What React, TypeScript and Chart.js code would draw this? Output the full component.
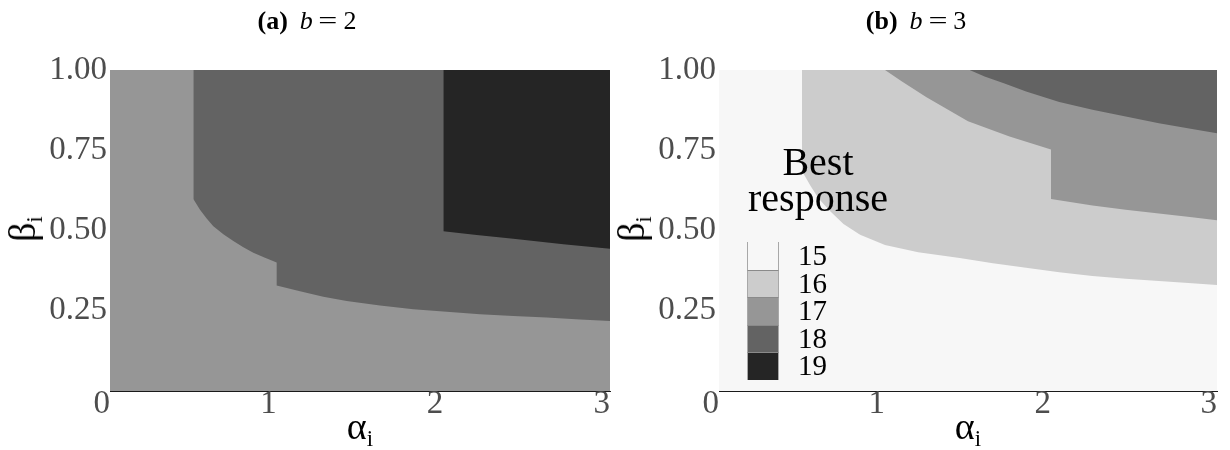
import React, { useEffect, useRef } from "react";
import { Chart, registerables } from "chart.js";

Chart.register(...registerables);

const FONT = "'Liberation Serif', 'DejaVu Serif', serif";

// axes
const X_TICKS = [0, 1, 2, 3];
const Y_TICKS = [0.25, 0.5, 0.75, 1.0];
const X_RANGE = [0, 3];
const Y_RANGE = [0, 1];

// legend levels ("Best response")
const LEVELS = [15, 16, 17, 18, 19];
const LEVEL_COLORS = ["#f7f7f7", "#cccccc", "#969696", "#636363", "#252525"];

// panel titles
const PANEL_TAGS = ["(a)", "(b)"];
const PANEL_B = [2, 3];

// Panel (a): b = 2  — base level 17, regions 18 and 19 above the boundaries
const A_BASE = 17;
const A_18_ALPHA = [0.5, 0.5, 0.54, 0.58, 0.62, 0.68, 0.74, 0.8, 0.86, 0.93, 1.0, 1.0, 1.14, 1.28, 1.42, 1.62, 1.82, 2.02, 2.22, 2.42, 2.62, 2.82, 3.0];
const A_18_BETA = [1.0, 0.598, 0.565, 0.537, 0.513, 0.488, 0.467, 0.448, 0.431, 0.415, 0.4, 0.329, 0.311, 0.294, 0.28, 0.266, 0.255, 0.247, 0.239, 0.234, 0.229, 0.223, 0.218];
const A_19_ALPHA = [2.0, 2.0, 2.2, 2.42, 2.72, 3.0];
const A_19_BETA = [1.0, 0.498, 0.486, 0.474, 0.457, 0.443];

// Panel (b): b = 3  — base level 15, regions 16, 17, 18
const B_BASE = 15;
const B_16_ALPHA = [0.5, 0.5, 0.55, 0.6, 0.67, 0.75, 0.85, 1.0, 1.2, 1.45, 1.65, 1.85, 2.05, 2.25, 2.45, 2.65, 2.85, 3.0];
const B_16_BETA = [1.0, 0.685, 0.64, 0.6, 0.56, 0.52, 0.487, 0.455, 0.432, 0.414, 0.398, 0.384, 0.37, 0.358, 0.35, 0.343, 0.336, 0.33];
const B_17_ALPHA = [1.0, 1.1, 1.25, 1.5, 1.75, 2.0, 2.0, 2.25, 2.45, 2.65, 2.85, 3.0];
const B_17_BETA = [1.0, 0.965, 0.915, 0.84, 0.793, 0.752, 0.598, 0.578, 0.565, 0.553, 0.541, 0.532];
const B_18_ALPHA = [1.51, 1.6, 1.72, 1.85, 2.05, 2.25, 2.45, 2.65, 2.85, 3.0];
const B_18_BETA = [1.0, 0.98, 0.958, 0.933, 0.9, 0.876, 0.855, 0.834, 0.816, 0.803];

type Layer = { level: number; alpha: number[]; beta: number[] };

const colorOf = (lv: number) => LEVEL_COLORS[LEVELS.indexOf(lv)];

function buildChart(
  canvas: HTMLCanvasElement,
  base: number,
  layers: Layer[],
  yAxisWidth: number,
  padRight: number
) {
  const datasets: any[] = [
    {
      label: String(base),
      data: [
        { x: X_RANGE[0], y: Y_RANGE[1] },
        { x: X_RANGE[1], y: Y_RANGE[1] },
      ],
      fill: "start",
      backgroundColor: colorOf(base),
      order: 10,
    },
    ...layers.map((L, i) => ({
      label: String(L.level),
      data: L.alpha.map((a, j) => ({ x: a, y: L.beta[j] })),
      fill: "end",
      backgroundColor: colorOf(L.level),
      order: 5 - i,
    })),
  ].map((d) => ({
    ...d,
    borderWidth: 0,
    borderColor: "rgba(0,0,0,0)",
    pointRadius: 0,
    pointHoverRadius: 0,
    tension: 0,
  }));

  const tickFont = { family: FONT, size: 33, lineHeight: 0.79 };

  return new Chart(canvas, {
    type: "line",
    data: { datasets },
    options: {
      animation: false,
      responsive: false,
      maintainAspectRatio: false,
      events: [],
      layout: { padding: { top: 70, right: padRight, left: 0, bottom: 0 } },
      plugins: {
        legend: { display: false },
        tooltip: { enabled: false },
        title: { display: false },
      },
      scales: {
        x: {
          type: "linear",
          min: X_RANGE[0],
          max: X_RANGE[1],
          z: 1,
          afterBuildTicks: (s: any) => {
            s.ticks = X_TICKS.map((v) => ({ value: v }));
          },
          afterFit: (s: any) => {
            s.height = 59;
          },
          grid: { display: false, drawTicks: false },
          border: { display: true, color: "#1a1a1a", width: 1 },
          ticks: {
            align: "end",
            padding: 0,
            maxRotation: 0,
            autoSkip: false,
            color: "#4d4d4d",
            font: tickFont,
            callback: (v: any) => String(v),
          },
        },
        y: {
          type: "linear",
          min: Y_RANGE[0],
          max: Y_RANGE[1],
          z: 1,
          afterBuildTicks: (s: any) => {
            s.ticks = Y_TICKS.map((v) => ({ value: v }));
          },
          afterFit: (s: any) => {
            s.width = yAxisWidth;
          },
          grid: { display: false, drawTicks: false },
          border: { display: true, color: "#1a1a1a", width: 1 },
          ticks: {
            padding: 3,
            autoSkip: false,
            color: "#4d4d4d",
            font: { family: FONT, size: 33, lineHeight: 1 },
            callback: (v: any) => Number(v).toFixed(2),
          },
        },
      },
    } as any,
  });
}

const PANEL_W = 615;
const PANEL_H = 450;

function Title({ cx, idx }: { cx: number; idx: number }) {
  return (
    <div
      style={{
        position: "absolute",
        left: cx,
        top: 8,
        transform: "translateX(-50%)",
        fontFamily: FONT,
        fontSize: 26,
        lineHeight: "26px",
        whiteSpace: "nowrap",
        color: "#000",
      }}
    >
      <b>{PANEL_TAGS[idx]}</b>
      <span style={{ marginLeft: 12, fontStyle: "italic" }}>b</span>
      <span style={{ marginLeft: 8, display: "inline-block", transform: "scaleX(1.3)" }}>=</span>
      <span style={{ marginLeft: 8 }}>{PANEL_B[idx]}</span>
    </div>
  );
}

function XLabel({ cx }: { cx: number }) {
  return (
    <div
      style={{
        position: "absolute",
        left: cx,
        top: 407,
        transform: "translateX(-50%)",
        fontFamily: FONT,
        fontSize: 38,
        lineHeight: "38px",
        whiteSpace: "nowrap",
        color: "#000",
      }}
    >
      α<span style={{ fontSize: "0.6em", position: "relative", top: 7 }}>i</span>
    </div>
  );
}

function YLabel({ cx }: { cx: number }) {
  return (
    <div
      style={{
        position: "absolute",
        left: cx,
        top: 229,
        transform: "translate(-50%, -50%) rotate(-90deg)",
        fontFamily: FONT,
        fontSize: 38,
        lineHeight: "38px",
        whiteSpace: "nowrap",
        color: "#000",
      }}
    >
      β<span style={{ fontSize: "0.6em", position: "relative", top: 7 }}>i</span>
    </div>
  );
}

function Legend() {
  const boxH = 27.6;
  return (
    <>
      <div
        style={{
          position: "absolute",
          left: 738,
          top: 144,
          width: 160,
          textAlign: "center",
          fontFamily: FONT,
          fontSize: 40,
          lineHeight: "36px",
          color: "#000",
        }}
      >
        Best
        <br />
        response
      </div>
      <div style={{ position: "absolute", left: 747, top: 242 }}>
        {LEVELS.map((lv, i) => (
          <div
            key={lv}
            style={{
              width: 32,
              height: boxH,
              boxSizing: "border-box",
              background: LEVEL_COLORS[i],
              borderLeft: "1px solid #a8a8a8",
              borderRight: "1px solid #a8a8a8",
              borderTop: i > 0 ? "1px solid #8a8a8a" : "none",
            }}
          />
        ))}
      </div>
      <div style={{ position: "absolute", left: 798, top: 242 }}>
        {LEVELS.map((lv) => (
          <div
            key={lv}
            style={{
              height: boxH,
              lineHeight: boxH + "px",
              fontFamily: FONT,
              fontSize: 29,
              color: "#000",
            }}
          >
            {lv}
          </div>
        ))}
      </div>
    </>
  );
}

export default function App() {
  const refA = useRef<HTMLCanvasElement>(null);
  const refB = useRef<HTMLCanvasElement>(null);

  useEffect(() => {
    document.body.style.margin = "0";
    const ca = buildChart(
      refA.current!,
      A_BASE,
      [
        { level: 18, alpha: A_18_ALPHA, beta: A_18_BETA },
        { level: 19, alpha: A_19_ALPHA, beta: A_19_BETA },
      ],
      110,
      5
    );
    const cb = buildChart(
      refB.current!,
      B_BASE,
      [
        { level: 16, alpha: B_16_ALPHA, beta: B_16_BETA },
        { level: 17, alpha: B_17_ALPHA, beta: B_17_BETA },
        { level: 18, alpha: B_18_ALPHA, beta: B_18_BETA },
      ],
      104,
      13
    );
    return () => {
      ca.destroy();
      cb.destroy();
    };
  }, []);

  return (
    <div
      style={{
        position: "absolute",
        left: 0,
        top: 0,
        width: 1230,
        height: 450,
        background: "#fff",
        overflow: "hidden",
      }}
    >
      <div style={{ position: "absolute", left: 0, top: 0 }}>
        <canvas ref={refA} width={PANEL_W} height={PANEL_H} style={{ display: "block" }} />
      </div>
      <div style={{ position: "absolute", left: PANEL_W, top: 0 }}>
        <canvas ref={refB} width={PANEL_W} height={PANEL_H} style={{ display: "block" }} />
      </div>
      <Title cx={307} idx={0} />
      <Title cx={916} idx={1} />
      <XLabel cx={360} />
      <XLabel cx={968} />
      <YLabel cx={25} />
      <YLabel cx={634} />
      <Legend />
    </div>
  );
}
